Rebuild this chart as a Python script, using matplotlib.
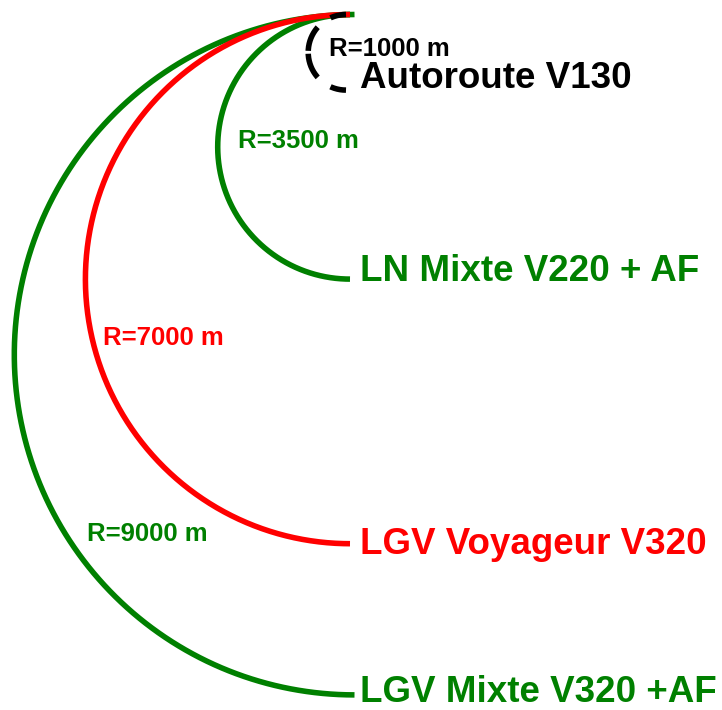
import matplotlib.pyplot as plt
import numpy as np

# rayons des courbes (m) et libellés
radii = [9000, 7000, 3500, 1000]
r_labels = ['R=9000 m', 'R=7000 m', 'R=3500 m', 'R=1000 m']
names = ['LGV Mixte V320 +AF', 'LGV Voyageur V320', 'LN Mixte V220 + AF', 'Autoroute V130']
colors = ['#008000', '#ff0000', '#008000', '#000000']

plt.rcParams['font.family'] = ['Liberation Sans', 'DejaVu Sans']
plt.rcParams['lines.scale_dashes'] = False

W, H = 722, 710
s = 0.0378          # pixels par metre
x0, y0 = 350, 14.5  # point commun en pixels

fig = plt.figure(figsize=(W / 100, H / 100), dpi=100)
ax = fig.add_axes([0, 0, 1, 1])
ax.set_xlim(-x0 / s, (W - x0) / s)
ax.set_ylim((y0 - H) / s, y0 / s)
ax.set_aspect('equal')
ax.axis('off')

def px(x, y):
    # pixels -> metres
    return (x - x0) / s, (y0 - y) / s

# décalage horizontal du centre (px), ordre de tracé et position des textes (x gauche, y centre)
dx = [4.5, 0, 0, -4]
zo = [2, 4, 3, 5]
rlab_pos = [(87, 534), (103, 338), (238, 141), (329, 49)]
name_pos = [(360, 692), (360, 545), (360, 272), (360, 79)]

for i, R in enumerate(radii):
    cx = dx[i] / s
    if i == 3:
        # arc en pointillés, deux quarts partant des extrémités
        for a, b in [(np.pi / 2, np.pi), (3 * np.pi / 2, np.pi)]:
            t = np.linspace(a, b, 200)
            ax.plot(cx + R * np.cos(t), -R + R * np.sin(t), color=colors[i], lw=4.0,
                    linestyle=(7.2, (18.7, 11.5)), dash_capstyle='butt', zorder=zo[i])
    else:
        t = np.linspace(np.pi / 2, 3 * np.pi / 2, 400)
        ax.plot(cx + R * np.cos(t), -R + R * np.sin(t), color=colors[i], lw=4.0,
                solid_capstyle='butt', zorder=zo[i])
    xr, yr = px(*rlab_pos[i])
    ax.text(xr, yr, r_labels[i], color=colors[i], fontsize=18.5, fontweight='bold',
            ha='left', va='center', zorder=6)
    xn, yn = px(*name_pos[i])
    ax.text(xn, yn, names[i], color=colors[i], fontsize=26.5, fontweight='bold',
            ha='left', va='center', zorder=6)

fig.savefig('out.png', dpi=100)
